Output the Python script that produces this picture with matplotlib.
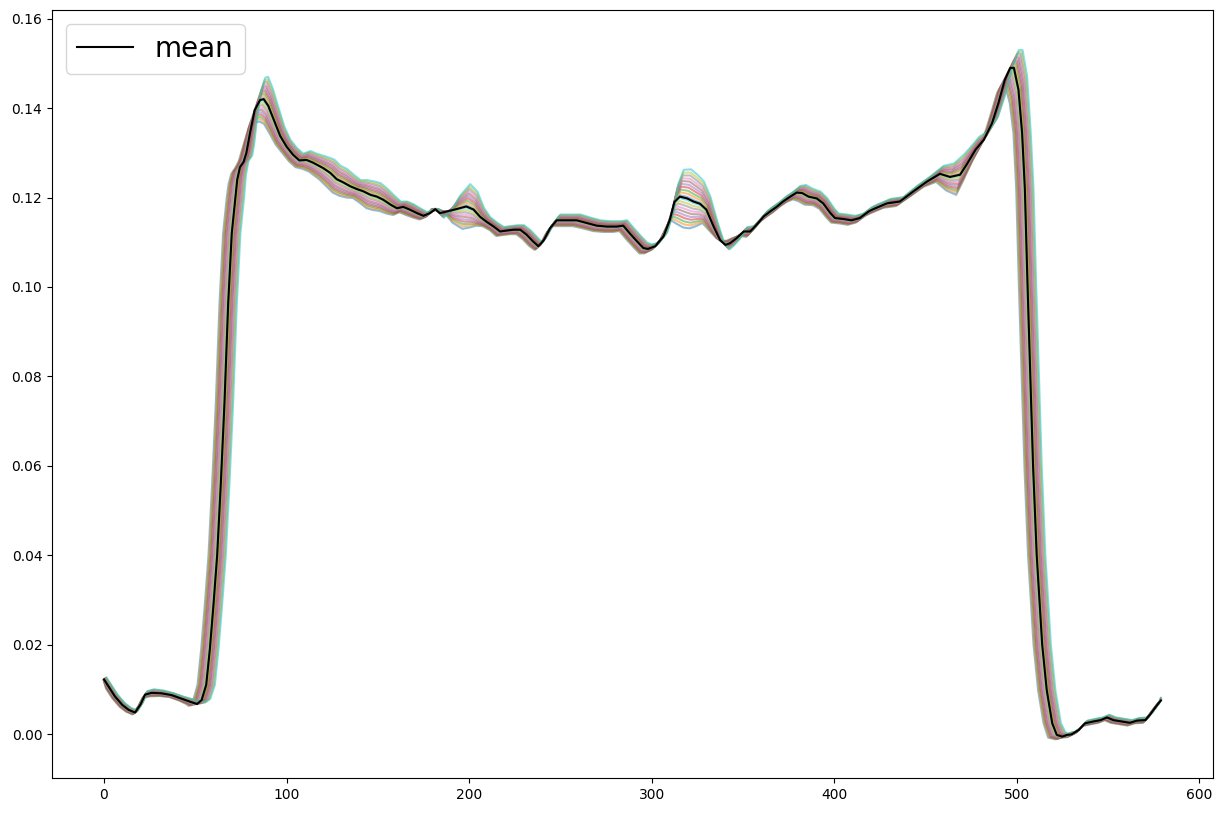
import numpy as np
import matplotlib
matplotlib.use("Agg")
import matplotlib.pyplot as plt

# mean profile (x position, value)
mean_x = [0, 2.5, 6, 10, 13.5, 17, 20, 22.5, 26, 31.5, 37, 42.5, 48, 51, 53.5,
          56, 58, 60, 62, 64, 66, 68, 70, 72, 73, 74.5, 76.5, 78, 80, 82.5,
          85.5, 87.5, 90, 93, 96.5, 100, 103.5, 107, 111, 114.5, 120, 124, 127.5,
          131, 135, 138.5, 142, 146, 149.5, 153, 157, 160.5, 164, 167.5, 171.5,
          175, 178.5, 181.5, 184, 188, 193, 198.5, 202.5, 206, 209.5, 213.5, 217,
          220.5, 224.5, 228, 231.5, 235, 238, 241, 244.5, 248, 253.5, 259, 264.5,
          270, 275.5, 281, 284.5, 288, 292, 295.5, 298, 302, 306.5, 310, 312.5,
          315.5, 319.5, 323, 326.5, 330, 334, 337.5, 340.5, 343, 346.5, 350.5,
          354, 357.5, 361.5, 365, 368.5, 372, 376, 379.5, 382.5, 386, 390.5, 394,
          398, 400.5, 405, 409.5, 414, 419, 421.5, 429, 436, 443.5, 451, 458,
          463.5, 469, 472.5, 477.5, 482, 486.5, 490, 493.5, 496.5, 498.5, 501,
          503, 504.5, 506, 509, 511, 514, 516.5, 519.5, 522, 525, 527.5, 530,
          534, 537.5, 542, 546, 549.5, 553, 557.5, 562, 566, 570.5, 573, 577, 579]
mean_y = [0.0122, 0.0106, 0.0084, 0.0065, 0.0054, 0.0048, 0.0066, 0.0088, 0.0092,
          0.0091, 0.0087, 0.0079, 0.0071, 0.0067, 0.0076, 0.0110, 0.0190, 0.0290,
          0.0400, 0.0560, 0.0740, 0.0960, 0.1120, 0.1200, 0.1240, 0.1268, 0.1280,
          0.1300, 0.1344, 0.1395, 0.1418, 0.1420, 0.1405, 0.1374, 0.1338, 0.1314,
          0.1296, 0.1283, 0.1284, 0.1278, 0.1266, 0.1255, 0.1241, 0.1234, 0.1225,
          0.1219, 0.1214, 0.1206, 0.1202, 0.1195, 0.1184, 0.1176, 0.1179, 0.1173,
          0.1165, 0.1159, 0.1165, 0.1174, 0.1165, 0.1169, 0.1174, 0.1180, 0.1173,
          0.1157, 0.1146, 0.1135, 0.1124, 0.1126, 0.1128, 0.1128, 0.1117, 0.1102,
          0.1091, 0.1105, 0.1132, 0.1149, 0.1149, 0.1149, 0.1143, 0.1137, 0.1135,
          0.1135, 0.1137, 0.1120, 0.1102, 0.1087, 0.1085, 0.1091, 0.1113, 0.1150,
          0.1190, 0.1202, 0.1198, 0.1191, 0.1186, 0.1173, 0.1135, 0.1105, 0.1094,
          0.1098, 0.1109, 0.1124, 0.1124, 0.1139, 0.1158, 0.1169, 0.1179, 0.1191,
          0.1202, 0.1211, 0.1210, 0.1202, 0.1198, 0.1187, 0.1165, 0.1154, 0.1152,
          0.1149, 0.1154, 0.1169, 0.1174, 0.1187, 0.1191, 0.1214, 0.1236, 0.1253,
          0.1246, 0.1251, 0.1273, 0.1307, 0.1329, 0.1366, 0.1411, 0.1463, 0.1490,
          0.1490, 0.1441, 0.1344, 0.1220, 0.1000, 0.0600, 0.0400, 0.0200, 0.0098,
          0.0024, -0.0002, -0.0006, -0.0002, -0.0001, 0.0009, 0.0024, 0.0028,
          0.0031, 0.0037, 0.0031, 0.0028, 0.0025, 0.0030, 0.0031, 0.0043, 0.0065,
          0.0075]
# half-width of the vertical spread of the runs around the mean, same x positions
spread = [0.0004, 0.0004, 0.0004, 0.0004, 0.0004, 0.0004, 0.0006, 0.0008, 0.0008,
          0.0006, 0.0004, 0.0004, 0.0004, 0.0004, 0.0003, 0.0, 0.0, 0.0, 0.0, 0.0,
          0.0, 0.0, 0.0, 0.0, 0.001, 0.0015, 0.0015, 0.002, 0.003, 0.004, 0.005,
          0.005, 0.004, 0.003, 0.002, 0.0015, 0.0015, 0.0015, 0.002, 0.002,
          0.0025, 0.003, 0.003, 0.003, 0.0025, 0.002, 0.0025, 0.003, 0.003, 0.0025,
          0.002, 0.0015, 0.0012, 0.0012, 0.001, 0.0008, 0.0008, 0.0, -0.001, 0.0,
          0.003, 0.005, 0.004, 0.002, 0.001, 0.0008, 0.001, 0.001, 0.001, 0.001,
          0.001, 0.001, 0.0008, 0.0012, 0.0012, 0.0013, 0.0013, 0.0013, 0.0012,
          0.0012, 0.0012, 0.0012, 0.0012, 0.0012, 0.0012, 0.0012, 0.001, 0.0008,
          0.001, 0.002, 0.004, 0.006, 0.0065, 0.006, 0.005, 0.003, 0.001, -0.0005,
          -0.001, -0.0005, 0.0, 0.001, 0.0012, 0.0012, 0.0012, 0.0012, 0.0012,
          0.0012, 0.0012, 0.0015, 0.0018, 0.0018, 0.0015, 0.0012, 0.001, 0.001,
          0.001, 0.001, 0.001, 0.001, 0.001, 0.001, 0.001, 0.0012, 0.0012,
          0.0018, 0.003, 0.0045, 0.004, 0.003, 0.002, 0.0015, 0.002, 0.003,
          0.004, 0.004, 0.003, 0.0, 0.0, 0.0, 0.0, 0.0, 0.0, 0.0, 0.0, 0.0006,
          0.0006, 0.0006, 0.0006, 0.0006, 0.0006, 0.0006, 0.0006, 0.0006, 0.0006,
          0.0006, 0.0006, 0.0006, 0.0006, 0.0006, 0.0006, 0.0006]
# how much of the horizontal offset applies at each x position (large on the edges)
shift_scale = ([0.3] * 12 + [0.6, 1.0, 1.0]
               + [1.0] * 12 + [0.9, 0.8, 0.7]
               + [0.6, 0.5, 0.5, 0.5, 0.5] + [0.45] * 8
               + [0.45] * 12 + [0.45] * 12 + [0.45] * 12 + [0.45] * 12
               + [0.45] * 11 + [0.45] * 12 + [0.45] * 12
               + [0.45, 0.45, 0.5, 0.5, 0.6, 0.7, 0.8, 0.9, 1.0, 1.0, 1.0]
               + [1.0] * 9 + [0.8, 0.6, 0.5]
               + [0.3] * 13)

# per-run horizontal offset and spread weight
run_shift = [-4.75, -4.25, -3.75, -3.25, -2.75, -2.25, -1.75, -1.25, -0.75, -0.25,
             0.25, 0.75, 1.25, 1.75, 2.25, 2.75, 3.25, 3.75, 4.25, 4.75]
run_weight = [-1.0, -0.89, -0.79, -0.68, -0.58, -0.47, -0.37, -0.26, -0.16, -0.05,
              0.05, 0.16, 0.26, 0.37, 0.47, 0.58, 0.68, 0.79, 0.89, 1.0]

mx = np.array(mean_x)
my = np.array(mean_y)
sp = np.array(spread)
sc = np.array(shift_scale)

fig = plt.figure(figsize=(12.23, 8.13), dpi=100)
ax = fig.add_subplot(111)
fig.subplots_adjust(left=0.0425, right=0.992, top=0.988, bottom=0.043)

for s, w in zip(run_shift, run_weight):
    xs = np.clip(mx + s * sc, 0, 579)
    ax.plot(xs, my + w * sp, alpha=0.5, lw=1.5)

ax.plot(mx, my, color="black", lw=1.5, label="mean")
ax.legend(loc="upper left", fontsize=20)
ax.set_xlim(-28.5, 607.7)
ax.set_ylim(-0.00985, 0.162)

fig.savefig("out.png", dpi=100)
